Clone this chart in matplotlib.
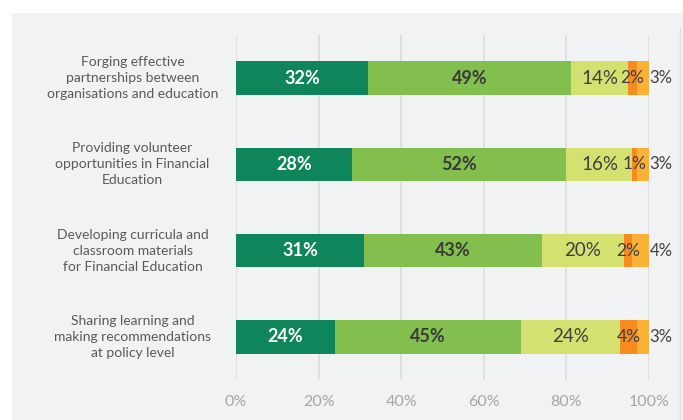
import matplotlib
matplotlib.use("Agg")
import matplotlib.pyplot as plt
from matplotlib.patches import Rectangle
from matplotlib.lines import Line2D
import matplotlib.transforms as mtransforms

categories = [
    "Forging effective\npartnerships between\norganisations and education",
    "Providing volunteer\nopportunities in Financial\nEducation",
    "Developing curricula and\nclassroom materials\nfor Financial Education",
    "Sharing learning and\nmaking recommendations\nat policy level",
]
seg1 = [32, 28, 31, 24]
seg2 = [49, 52, 43, 45]
seg3 = [14, 16, 20, 24]
seg4 = [2, 1, 2, 4]
seg5 = [3, 3, 4, 3]
xticks = [0, 20, 40, 60, 80, 100]
xticklabels = ["0%", "20%", "40%", "60%", "80%", "100%"]

colors = ["#0f855b", "#82bf4f", "#d4e171", "#f68b1f", "#fbb135"]
label_colors = ["white", "#3a3a3a", "#404040", "#404040", "#404040"]
label_weights = ["bold", "bold", "normal", "normal", "normal"]
label_sizes = [13, 13, 13.5, 12.5, 12]

plt.rcParams['font.family'] = ['Lato', 'DejaVu Sans']

fig = plt.figure(figsize=(6.83, 4.20), dpi=100)
fig.patch.set_facecolor("white")
fig.patches.append(Rectangle((12/683, 0), 1 - 12/683, 1 - 13/420,
                             transform=fig.transFigure, facecolor="#f1f2f4",
                             edgecolor="none", zorder=-10))
fig.lines.append(Line2D([680/683, 680/683], [0, 1 - 29/420], transform=fig.transFigure,
                        color="#dcdde0", lw=1))

ax = fig.add_axes([236/683, 1 - 380/420, (649 - 236)/683, (380 - 35)/420])
ax.set_facecolor("none")
for s in ax.spines.values():
    s.set_visible(False)

series = [seg1, seg2, seg3, seg4, seg5]
ypos = list(range(len(categories)))
left = [0] * len(categories)
for k, vals in enumerate(series):
    ax.barh(ypos, vals, left=left, height=0.39, color=colors[k], zorder=3)
    for i, v in enumerate(vals):
        if k == 4:
            x = left[i] + v + 0.1
            ha = "left"
        else:
            x = left[i] + v / 2
            ha = "center"
        ax.text(x, i, f"{v}%", ha=ha, va="center", color=label_colors[k],
                fontsize=label_sizes[k], fontweight=label_weights[k], zorder=4)
    left = [l + v for l, v in zip(left, vals)]

ax.set_xlim(0, 100)
ax.set_ylim(len(categories) - 0.5, -0.5)
ax.set_xticks(xticks)
ax.set_xticklabels(xticklabels, color="#a6a6a6", fontsize=11.5)
ax.tick_params(axis="x", length=0, pad=11)
ax.set_yticks([])
ax.grid(axis="x", color="#dcdcdc", lw=1.2, zorder=0)

trans = mtransforms.blended_transform_factory(ax.transAxes, ax.transData)
for i, c in enumerate(categories):
    ax.text(-0.2506, i, c, transform=trans, ha="center", va="center",
            color="#595959", fontsize=10, linespacing=1.4)

fig.savefig("out.png", dpi=100)
